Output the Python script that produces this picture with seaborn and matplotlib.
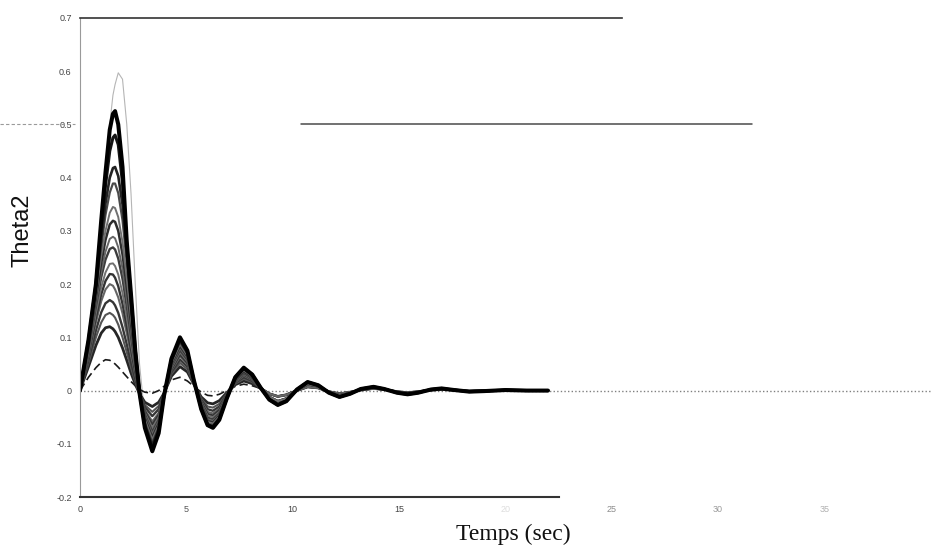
import matplotlib
matplotlib.use("Agg")
import matplotlib.pyplot as plt
import matplotlib.transforms as mtransforms
from matplotlib.lines import Line2D
import pandas as pd
import seaborn as sns

# Sample times (s): early oscillation and settling tail
T_HEAD = [0.0, 0.4, 0.75, 1.0, 1.2, 1.4, 1.55, 1.65, 1.8, 2.0, 2.2, 2.4, 2.6, 2.8,
          3.05, 3.4, 3.7, 3.95, 4.3, 4.7, 5.05, 5.35, 5.7, 6.0, 6.25, 6.55, 6.9,
          7.3, 7.7, 8.1]
T_TAIL = [8.5, 8.9, 9.3, 9.7, 10.2, 10.7, 11.2, 11.7, 12.2, 12.7, 13.2, 13.8,
          14.3, 14.9, 15.4, 15.9, 16.5, 17.0, 17.6, 18.3, 19.0, 20.0, 21.0, 22.0]

# Theta2 responses (rad), one list per run, on T_HEAD
theta_c1 = [0, 0.025, 0.043, 0.053, 0.058, 0.057, 0.053, 0.050, 0.044, 0.035, 0.026,
            0.017, 0.009, 0.002, -0.003, -0.005, 0.0, 0.008, 0.020, 0.025, 0.018,
            0.008, -0.003, -0.009, -0.010, -0.007, 0.0, 0.008, 0.012, 0.009]
theta_c2 = [0, 0.045, 0.085, 0.108, 0.118, 0.12, 0.116, 0.111, 0.10, 0.08, 0.057,
            0.033, 0.012, -0.006, -0.022, -0.030, -0.022, -0.005, 0.027, 0.045, 0.035,
            0.012, -0.012, -0.023, -0.025, -0.019, -0.004, 0.011, 0.018, 0.013]
theta_c3 = [0, 0.052, 0.10, 0.128, 0.142, 0.146, 0.142, 0.137, 0.124, 0.10, 0.072,
            0.043, 0.017, -0.006, -0.027, -0.040, -0.029, -0.006, 0.031, 0.052, 0.040,
            0.013, -0.015, -0.030, -0.032, -0.025, -0.006, 0.013, 0.022, 0.016]
theta_c4 = [0, 0.058, 0.113, 0.147, 0.164, 0.17, 0.166, 0.160, 0.146, 0.119, 0.087,
            0.053, 0.022, -0.005, -0.031, -0.048, -0.035, -0.007, 0.035, 0.058, 0.045,
            0.014, -0.018, -0.035, -0.038, -0.030, -0.007, 0.015, 0.025, 0.018]
theta_c5 = [0, 0.064, 0.128, 0.168, 0.19, 0.20, 0.197, 0.19, 0.175, 0.145, 0.107,
            0.067, 0.03, -0.004, -0.036, -0.058, -0.042, -0.008, 0.038, 0.064, 0.049,
            0.015, -0.02, -0.040, -0.043, -0.034, -0.009, 0.016, 0.028, 0.020]
theta_c6 = [0, 0.068, 0.137, 0.181, 0.206, 0.219, 0.218, 0.212, 0.196, 0.163, 0.121,
            0.077, 0.035, -0.003, -0.039, -0.064, -0.046, -0.008, 0.040, 0.068, 0.052,
            0.016, -0.022, -0.044, -0.047, -0.037, -0.01, 0.017, 0.030, 0.021]
theta_c7 = [0, 0.072, 0.146, 0.194, 0.222, 0.238, 0.239, 0.234, 0.218, 0.183, 0.137,
            0.088, 0.041, -0.002, -0.042, -0.070, -0.050, -0.008, 0.042, 0.072, 0.055,
            0.016, -0.024, -0.047, -0.050, -0.040, -0.011, 0.018, 0.031, 0.022]
theta_c8 = [0, 0.077, 0.158, 0.213, 0.246, 0.266, 0.269, 0.265, 0.248, 0.21, 0.158,
            0.102, 0.048, 0.0, -0.045, -0.077, -0.055, -0.008, 0.045, 0.076, 0.058,
            0.017, -0.026, -0.051, -0.054, -0.043, -0.012, 0.019, 0.033, 0.023]
theta_c9 = [0, 0.08, 0.165, 0.224, 0.261, 0.285, 0.289, 0.286, 0.269, 0.229, 0.173,
            0.112, 0.053, 0.001, -0.048, -0.082, -0.058, -0.008, 0.047, 0.080, 0.061,
            0.018, -0.028, -0.054, -0.057, -0.045, -0.012, 0.02, 0.035, 0.025]
theta_c10 = [0, 0.084, 0.175, 0.24, 0.283, 0.312, 0.319, 0.317, 0.30, 0.256, 0.194,
             0.126, 0.06, 0.002, -0.052, -0.088, -0.062, -0.009, 0.050, 0.084, 0.064,
             0.018, -0.029, -0.057, -0.060, -0.047, -0.013, 0.021, 0.036, 0.026]
theta_c11 = [0, 0.087, 0.182, 0.254, 0.30, 0.334, 0.345, 0.343, 0.326, 0.279, 0.211,
             0.137, 0.066, 0.002, -0.055, -0.092, -0.065, -0.009, 0.052, 0.087, 0.066,
             0.019, -0.030, -0.059, -0.062, -0.049, -0.013, 0.022, 0.038, 0.027]
theta_c12 = [0, 0.09, 0.19, 0.27, 0.33, 0.372, 0.389, 0.389, 0.371, 0.32, 0.24,
             0.155, 0.072, 0.0, -0.06, -0.098, -0.069, -0.009, 0.055, 0.091, 0.069,
             0.019, -0.032, -0.062, -0.065, -0.051, -0.014, 0.023, 0.040, 0.028]
theta_c13 = [0, 0.092, 0.195, 0.285, 0.352, 0.40, 0.418, 0.42, 0.403, 0.35, 0.26,
             0.166, 0.074, -0.002, -0.064, -0.103, -0.072, -0.01, 0.057, 0.094, 0.071,
             0.019, -0.033, -0.064, -0.067, -0.053, -0.014, 0.024, 0.041, 0.029]
theta_c14 = [0, 0.094, 0.20, 0.305, 0.385, 0.45, 0.475, 0.48, 0.462, 0.39, 0.275,
             0.175, 0.077, -0.004, -0.068, -0.109, -0.076, -0.01, 0.059, 0.097, 0.073,
             0.02, -0.034, -0.065, -0.069, -0.054, -0.015, 0.025, 0.042, 0.030]
theta_c15 = [0, 0.095, 0.20, 0.32, 0.41, 0.49, 0.52, 0.525, 0.50, 0.42, 0.28,
             0.18, 0.075, -0.005, -0.07, -0.114, -0.08, -0.01, 0.06, 0.10, 0.075,
             0.02, -0.035, -0.065, -0.07, -0.055, -0.015, 0.025, 0.043, 0.03]
theta_c16 = [0, 0.095, 0.20, 0.32, 0.41, 0.50, 0.555, 0.575, 0.597, 0.585, 0.50,
             0.37, 0.20, 0.05, -0.05, -0.11, -0.085, -0.02, 0.055, 0.10, 0.08,
             0.025, -0.03, -0.065, -0.072, -0.058, -0.02, 0.022, 0.043, 0.033]

# Settling tails on T_TAIL (small, medium and large runs)
tail_lo = [0.004, -0.006, -0.011, -0.008, 0.0, 0.007, 0.005, -0.002, -0.006, -0.003,
           0.001, 0.004, 0.002, -0.002, -0.004, -0.002, 0.001, 0.002, 0.001, -0.001,
           0.0, 0.0, 0.0, 0.0]
tail_mid = [0.005, -0.012, -0.020, -0.015, 0.001, 0.012, 0.008, -0.003, -0.009, -0.005,
            0.002, 0.006, 0.003, -0.003, -0.005, -0.003, 0.002, 0.003, 0.001, -0.002,
            -0.001, 0.001, 0.0, 0.0]
tail_hi = [0.005, -0.017, -0.027, -0.02, 0.002, 0.016, 0.01, -0.004, -0.012, -0.006,
           0.003, 0.007, 0.003, -0.004, -0.007, -0.004, 0.002, 0.004, 0.001, -0.002,
           -0.001, 0.001, 0.0, 0.0]

runs = {
    "c16": (theta_c16, tail_hi),
    "c1": (theta_c1, tail_lo),
    "c2": (theta_c2, tail_lo),
    "c3": (theta_c3, tail_lo),
    "c4": (theta_c4, tail_lo),
    "c5": (theta_c5, tail_lo),
    "c6": (theta_c6, tail_mid),
    "c7": (theta_c7, tail_mid),
    "c8": (theta_c8, tail_mid),
    "c9": (theta_c9, tail_mid),
    "c10": (theta_c10, tail_mid),
    "c11": (theta_c11, tail_mid),
    "c12": (theta_c12, tail_hi),
    "c13": (theta_c13, tail_hi),
    "c14": (theta_c14, tail_hi),
    "c15": (theta_c15, tail_hi),
}

colors = {"c16": "#b5b5b5", "c1": "#1a1a1a", "c2": "#262626", "c3": "#555555",
          "c4": "#363636", "c5": "#666666", "c6": "#333333", "c7": "#707070",
          "c8": "#3c3c3c", "c9": "#666666", "c10": "#2c2c2c", "c11": "#707070",
          "c12": "#4a4a4a", "c13": "#222222", "c14": "#151515", "c15": "#000000"}
widths = {"c16": 0.8, "c1": 1.2, "c2": 2.0, "c3": 1.5, "c4": 1.7, "c5": 1.5,
          "c6": 1.7, "c7": 1.4, "c8": 1.7, "c9": 1.4, "c10": 1.8, "c11": 1.4,
          "c12": 1.6, "c13": 1.9, "c14": 2.2, "c15": 2.9}
dashes = {k: "" for k in runs}
dashes["c1"] = (5, 2.5)

rows = []
for name, (head, tail) in runs.items():
    for t, v in zip(T_HEAD + T_TAIL, head + tail):
        rows.append({"run": name, "t": t, "theta2": v})
df = pd.DataFrame(rows)

X_TICKS = [0, 5, 10, 15, 20, 25, 30, 35]
X_TICK_SHADES = ["#444444", "#555555", "#444444", "#444444", "#dddddd",
                 "#8a8a8a", "#9a9a9a", "#b0b0b0"]
Y_TICKS = [-0.2, -0.1, 0.0, 0.1, 0.2, 0.3, 0.4, 0.5, 0.6, 0.7]
Y_LABELS = ["-0.2", "-0.1", "0", "0.1", "0.2", "0.3", "0.4", "0.5", "0.6", "0.7"]

sns.set_style("white")
plt.rcParams["font.family"] = ["Liberation Sans", "DejaVu Sans"]

fig = plt.figure(figsize=(9.32, 5.52), dpi=100, facecolor="white")
ax = fig.add_axes([0.0858, 0.0996, 0.913, 0.8678])
ax.set_facecolor("white")

# zero reference line
ax.axhline(0.0, color="#808080", lw=1.0, ls=(0, (1, 1.6)), zorder=0)

order = list(runs.keys())
sns.lineplot(data=df, x="t", y="theta2", hue="run", size="run", style="run",
             hue_order=order, size_order=order, style_order=order,
             palette=colors, sizes=widths, dashes=dashes,
             estimator=None, sort=False, legend=False, ax=ax)

# rule at 0.5
ax.axhline(0.5, xmin=0.26, xmax=0.79, color="#4a4a4a", lw=1.1, zorder=1)
blend = mtransforms.blended_transform_factory(fig.transFigure, ax.transData)
fig.add_artist(Line2D([0.0, 0.08], [0.5, 0.5], transform=blend, color="#9a9a9a",
                      lw=0.8, ls=(0, (3, 2))))

ax.set_xlim(0, 40)
ax.set_ylim(-0.2, 0.7)
ax.set_xticks(X_TICKS)
ax.set_xticklabels([str(v) for v in X_TICKS])
ax.set_yticks(Y_TICKS)
ax.set_yticklabels(Y_LABELS)
ax.tick_params(axis="both", direction="in", length=3, width=0.7, colors="#666666",
               labelsize=6.5, labelcolor="#444444", pad=6)
for lbl, shade in zip(ax.get_xticklabels(), X_TICK_SHADES):
    lbl.set_color(shade)

ax.spines["right"].set_visible(False)
ax.spines["left"].set_color("#9a9a9a")
ax.spines["left"].set_linewidth(0.8)
ax.spines["top"].set_color("#333333")
ax.spines["top"].set_linewidth(1.2)
ax.spines["top"].set_bounds(0, 25.5)
ax.spines["bottom"].set_color("#333333")
ax.spines["bottom"].set_linewidth(1.5)
ax.spines["bottom"].set_bounds(0, 22.5)

ax.set_xlabel("Temps (sec)", fontsize=17, family=["Liberation Serif", "DejaVu Serif"],
              color="#111111")
ax.set_ylabel("Theta2", fontsize=17, family=["Liberation Sans", "DejaVu Sans"],
              color="#111111")
ax.xaxis.set_label_coords(0.509, -0.055)
ax.yaxis.set_label_coords(-0.055, 0.557)

fig.savefig("out.png", dpi=100, facecolor="white")
